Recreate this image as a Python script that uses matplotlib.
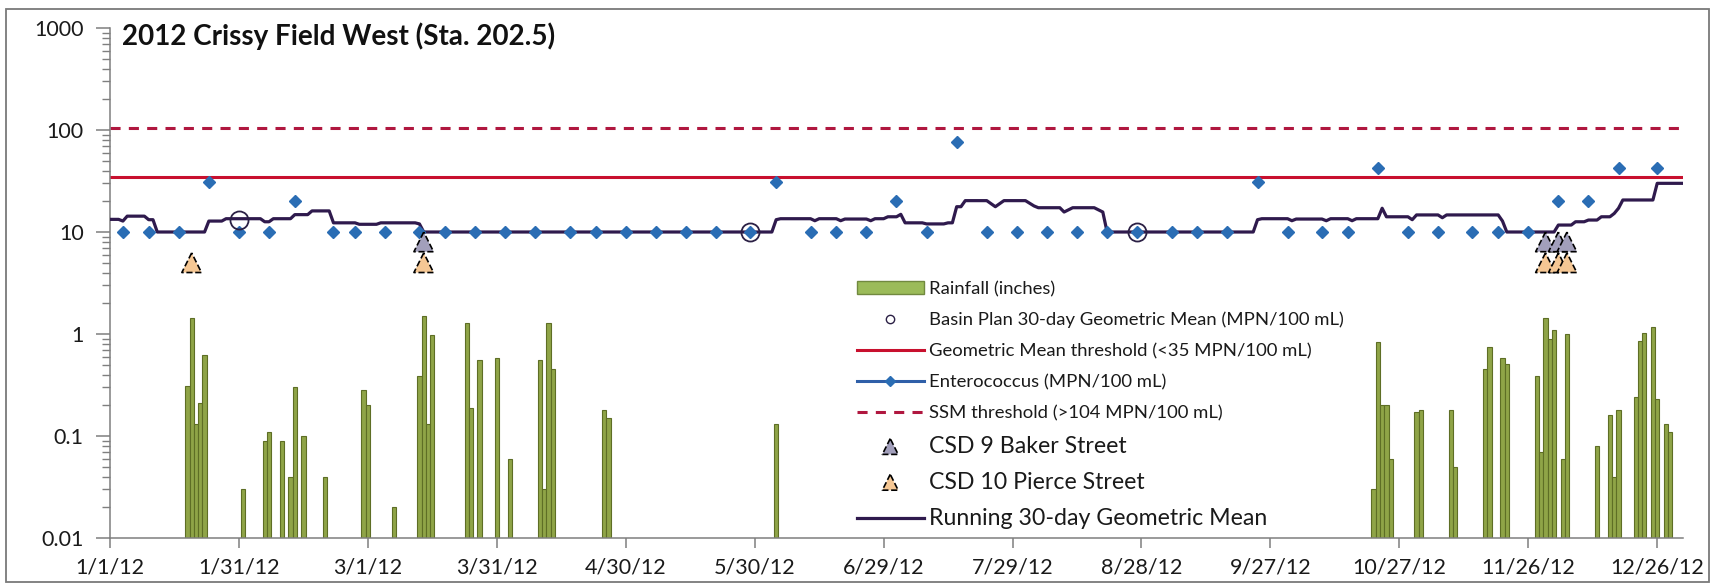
import numpy as np
import pandas as pd
import matplotlib
matplotlib.use("Agg")
import matplotlib.pyplot as plt
from matplotlib.lines import Line2D
from matplotlib.patches import Patch, Rectangle

plt.rcParams['font.family'] = ['Lato', 'DejaVu Sans']

START = pd.Timestamp('2012-01-01')

# Enterococcus samples: day of year (0 = 1/1/12) and MPN/100 mL
entero_day = [3, 9, 16, 23, 30, 37, 43, 52, 57, 64,
              72, 78, 85, 92, 99, 107, 113, 120, 127, 134,
              141, 149, 155, 163, 169, 176, 183, 190, 197, 204,
              211, 218, 225, 232, 239, 247, 253, 260, 267, 274,
              282, 288, 295, 302, 309, 317, 323, 330, 337, 344,
              351, 360]
entero_val = [10, 10, 10, 31, 10, 10, 20, 10, 10, 10,
              10, 10, 10, 10, 10, 10, 10, 10, 10, 10,
              10, 10, 31, 10, 10, 10, 20, 10, 76, 10,
              10, 10, 10, 10, 10, 10, 10, 10, 31, 10,
              10, 10, 42, 10, 10, 10, 10, 10, 20, 20,
              42, 42]

# running 30-day geometric mean (vertices of the daily line)
gm_day = [0, 2, 3, 4, 8, 9, 10, 11,
          22, 23, 26, 27, 35, 36, 37, 38, 42, 43, 46, 47, 51, 52, 57, 58, 62, 63, 71, 72, 73,
          154, 155, 156, 163, 164, 165, 169, 170, 171, 176, 177, 178, 180, 181, 183, 184, 185,
          189, 190, 194, 195, 196, 197, 198, 199, 204, 206, 208, 213, 215, 216, 221, 222, 224,
          229, 231, 232,
          266, 267, 268, 274, 275, 276, 282, 283, 284, 288, 289, 290, 295, 296, 297, 302, 303,
          304, 309, 310, 311, 323, 324, 325,
          336, 337, 340, 341, 343, 344, 346, 347, 349, 350, 351, 352, 359, 360, 366]
gm_val = [13.3, 13.3, 12.8, 14.3, 14.3, 13.2, 13.2, 10,
          10, 12.8, 12.8, 13.5, 13.5, 12.6, 12.6, 13.5, 13.5, 14.8, 14.8, 16.1, 16.1, 12.3,
          12.3, 11.9, 11.9, 12.3, 12.3, 12.0, 10,
          10, 13.2, 13.5, 13.5, 12.9, 13.5, 13.5, 12.9, 13.4, 13.4, 12.9, 13.5, 13.5, 14.1,
          14.1, 14.9, 12.3,
          12.3, 12.0, 12.0, 12.3, 12.3, 17.7, 17.7, 20.3, 20.3, 17.7, 20.3, 20.3, 18.0, 17.3,
          17.3, 15.7, 17.3, 17.3, 15.7, 10,
          10, 13.2, 13.5, 13.5, 12.9, 13.4, 13.4, 12.9, 13.5, 13.5, 12.9, 13.5, 13.5, 17.1,
          14.1, 14.1, 13.2, 14.7, 14.7, 13.8, 14.7, 14.7, 12.8, 10,
          10, 11.7, 11.7, 12.6, 12.6, 13.1, 13.1, 14.1, 14.1, 15.2, 17.1, 20.6, 20.6, 30, 30]

# Basin Plan 30-day geometric mean
basin_day = [30, 149, 239]
basin_val = [13, 10, 10]

# CSD discharge events
csd9_day = [73, 334, 337, 339]
csd9_val = [8, 8, 8, 8]
csd10_day = [19, 73, 334, 337, 339]
csd10_val = [5, 5, 5, 5, 5]

# daily rainfall (inches)
rain_day = [18, 19, 20, 21, 22, 31, 36, 37, 40, 42, 43, 45, 50, 59, 60, 66,
            72, 73, 74, 75, 83, 84, 86, 90, 93, 100, 101, 102, 103, 115, 116, 155,
            294, 295, 296, 297, 298, 304, 305, 312, 313, 320, 321, 324, 325,
            332, 333, 334, 335, 336, 338, 339, 346, 349, 350, 351, 355, 356, 357,
            359, 360, 362, 363]
rain_val = [0.31, 1.45, 0.13, 0.21, 0.62, 0.03, 0.09, 0.11, 0.09, 0.04, 0.30, 0.10, 0.04,
            0.28, 0.20, 0.02,
            0.39, 1.50, 0.13, 0.97, 1.27, 0.19, 0.56, 0.58, 0.06, 0.55, 0.03, 1.28, 0.45,
            0.18, 0.15, 0.13,
            0.03, 0.84, 0.20, 0.20, 0.06, 0.17, 0.18, 0.18, 0.05, 0.45, 0.75, 0.58, 0.51,
            0.39, 0.07, 1.43, 0.90, 1.10, 0.06, 1.00, 0.08, 0.16, 0.04, 0.18, 0.24, 0.86,
            1.03, 1.18, 0.23, 0.13, 0.11]

GM_THRESHOLD = 35
SSM_THRESHOLD = 104

tick_day = [0, 30, 60, 90, 120, 150, 180, 210, 240, 270, 300, 330, 360]
tick_labels = ['1/1/12', '1/31/12', '3/1/12', '3/31/12', '4/30/12', '5/30/12', '6/29/12',
               '7/29/12', '8/28/12', '9/27/12', '10/27/12', '11/26/12', '12/26/12']
y_ticks = [0.01, 0.1, 1, 10, 100, 1000]
y_labels = ['0.01', '0.1', '1', '10', '100', '1000']


def to_date(days):
    return START + pd.to_timedelta(np.asarray(days, dtype=float), unit='D')


W, H = 1720, 583
fig = plt.figure(figsize=(W / 100, H / 100), dpi=100)
ax = fig.add_axes([110 / W, 45 / H, (1683 - 110) / W, (538 - 28) / H])

bars = ax.bar(to_date(rain_day), rain_val, width=1.0, color='#8fa447',
              edgecolor='#5e6e25', linewidth=0.8, zorder=1)
ax.axhline(GM_THRESHOLD, color='#c8102e', lw=2.2, zorder=2)
ax.axhline(SSM_THRESHOLD, color='#b0173f', lw=2.2, dashes=(3.3, 2.7), zorder=2)
gm_line, = ax.plot(to_date(gm_day), gm_val, color='#2f1a4d', lw=2.3, zorder=3)
ax.plot(to_date(entero_day), entero_val, ls='none', marker='D', ms=6.2,
        color='#2a6db4', mec='#2a6db4', zorder=4)
sc9 = ax.scatter(to_date(csd9_day), csd9_val, s=200, marker='^', facecolor='#a29fbb',
                 edgecolor='black', linewidths=1.2, linestyle='--', zorder=5)
sc10 = ax.scatter(to_date(csd10_day), csd10_val, s=200, marker='^', facecolor='#f5c794',
                  edgecolor='black', linewidths=1.2, linestyle='--', zorder=5)
basin, = ax.plot(to_date(basin_day), basin_val, ls='none', marker='o', ms=13,
                 mfc='none', mec='#2b2045', mew=1.3, zorder=6)

ax.set_yscale('log')
ax.set_ylim(0.01, 1000)
ax.set_xlim(to_date([0])[0], to_date([366])[0])
ax.set_yticks(y_ticks)
ax.set_yticklabels(y_labels)
ax.set_xticks(to_date(tick_day))
ax.set_xticklabels(tick_labels)
ax.tick_params(axis='both', which='major', labelsize=15.5, colors='#7f7f7f',
               labelcolor='#1a1a1a', width=1.1)
ax.tick_params(axis='y', which='major', length=10, pad=9)
ax.tick_params(axis='y', which='minor', length=6, width=1.0, colors='#7f7f7f')
ax.tick_params(axis='x', which='major', length=7, pad=7)
ax.tick_params(axis='x', which='minor', length=0)
for side in ('top', 'right'):
    ax.spines[side].set_visible(False)
for side in ('left', 'bottom'):
    ax.spines[side].set_color('#7f7f7f')
    ax.spines[side].set_linewidth(1.1)

fig.text(122 / W, 1 - 36 / H, '2012 Crissy Field West (Sta. 202.5)', fontsize=20,
         fontweight='bold', ha='left', va='center', color='#111111')

handles = [
    Patch(facecolor='#9bbb59', edgecolor='#71893f'),
    Line2D([], [], ls='none', marker='o', ms=6, mfc='none', mec='#2b2045', mew=1.0),
    Line2D([], [], color='#c8102e', lw=2.2),
    Line2D([], [], color='#2f5fa8', lw=2.2, marker='D', ms=5, mfc='#2a6db4', mec='#2a6db4'),
    Line2D([], [], color='#b0173f', lw=2.2, dashes=(3.3, 2.7)),
    sc9, sc10, gm_line,
]
labels = ['Rainfall (inches)',
          'Basin Plan 30-day Geometric Mean (MPN/100 mL)',
          'Geometric Mean threshold (<35 MPN/100 mL)',
          'Enterococcus (MPN/100 mL)',
          'SSM threshold (>104 MPN/100 mL)',
          'CSD 9 Baker Street',
          'CSD 10 Pierce Street',
          'Running 30-day Geometric Mean']
leg = ax.legend(handles, labels, loc='upper left', bbox_to_anchor=(857 / W, 1 - 281 / H),
                bbox_transform=fig.transFigure, frameon=False, fontsize=13.3,
                borderpad=0, borderaxespad=0, handlelength=3.6, handletextpad=0.32,
                labelspacing=0.8, numpoints=1, scatterpoints=1, scatteryoffsets=[0.5])
for i in (5, 6):
    leg.legend_handles[i].set_sizes([130])
for i, t in enumerate(leg.get_texts()):
    t.set_color('#1a1a1a')
    if i >= 5:
        t.set_fontsize(16.7)

fig.patches.append(Rectangle((6 / W, 1 / H), (1709 - 6) / W, (582 - 9) / H, fill=False,
                             edgecolor='#7a7a7a', lw=1.3, transform=fig.transFigure))

fig.savefig('out.png', dpi=100)
